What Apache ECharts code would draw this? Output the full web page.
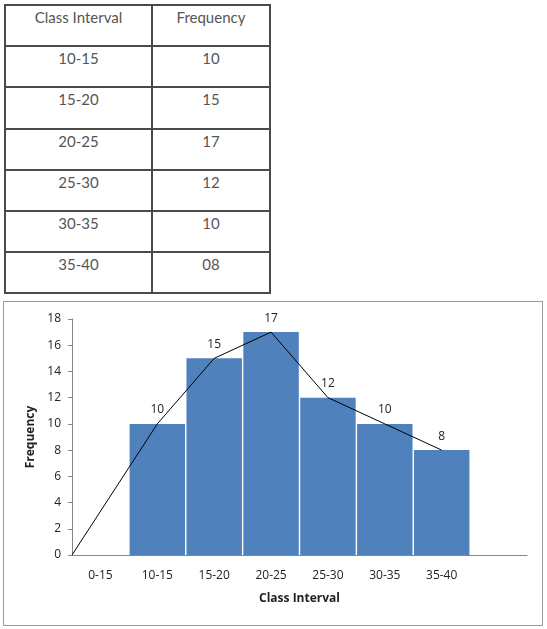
<!DOCTYPE html>
<html>
<head>
<meta charset="utf-8">
<script src="https://cdn.jsdelivr.net/npm/echarts@6/dist/echarts.min.js"></script>
<style>
  html, body { margin: 0; padding: 0; background: #fff; width: 547px; height: 629px; overflow: hidden; }
  #tbl { position: absolute; left: 4px; top: 4px; border-collapse: collapse; font-family: Lato, "Open Sans", sans-serif; font-size: 15px; color: #555; }
  #tbl td { border: 2px solid #4a4a4a; text-align: center; vertical-align: top; padding: 2px 0 0 0; box-sizing: border-box; }
  #tbl td.c1 { width: 147px; }
  #tbl td.c2 { width: 118px; }
  #chart { position: absolute; left: 3px; top: 301px; width: 540px; height: 325px; box-sizing: border-box; border: 1px solid #9a9a9a; }
</style>
</head>
<body>
<table id="tbl"></table>
<div id="chart"></div>
<script>
// ---- data ----
const tableHeaders = ["Class Interval", "Frequency"];
const tableIntervals = ["10-15", "15-20", "20-25", "25-30", "30-35", "35-40"];
const tableFrequencies = ["10", "15", "17", "12", "10", "08"];

const categories = ["0-15", "10-15", "15-20", "20-25", "25-30", "30-35", "35-40", ""];
const barValues = [null, 10, 15, 17, 12, 10, 8, null];
// frequency polygon: starts at 0 on the left edge, then the bar values at category centres
const polygonStart = 0;
const polygonValues = [10, 15, 17, 12, 10, 8];
const yTicks = { min: 0, max: 18, interval: 2 };

// ---- table ----
const tbl = document.getElementById('tbl');
function addRow(a, b) {
  const tr = document.createElement('tr');
  const t1 = document.createElement('td'); t1.className = 'c1'; t1.textContent = a;
  const t2 = document.createElement('td'); t2.className = 'c2'; t2.textContent = b;
  tr.appendChild(t1); tr.appendChild(t2); tbl.appendChild(tr);
}
addRow(tableHeaders[0], tableHeaders[1]);
tableIntervals.forEach((c, i) => addRow(c, tableFrequencies[i]));
Array.from(tbl.querySelectorAll('td')).forEach(td => td.style.height = '41.2px');

// ---- chart ----
const chart = echarts.init(document.getElementById('chart'), null, { renderer: 'canvas' });
const polyData = [[0, polygonStart]].concat(
  polygonValues.map((v, i) => [categories.indexOf(tableIntervals[i]) + 0.5, v])
);
const font = '"Open Sans", "Liberation Sans", Arial, sans-serif';
chart.setOption({
  animation: false,
  textStyle: { fontFamily: font },
  grid: { left: 68, right: 15, top: 17, bottom: 70 },
  xAxis: [{
    type: 'category',
    data: categories,
    axisLine: { lineStyle: { color: '#868686', width: 1 } },
    axisTick: { show: false },
    axisLabel: { color: '#222', fontSize: 12, margin: 15, fontFamily: font },
    name: 'Class Interval',
    nameLocation: 'middle',
    nameGap: 38,
    nameTextStyle: { color: '#222', fontWeight: 'bold', fontSize: 12, fontFamily: font }
  }, {
    type: 'value', min: 0, max: categories.length, show: false
  }],
  yAxis: {
    type: 'value',
    min: yTicks.min, max: yTicks.max, interval: yTicks.interval,
    axisLine: { show: true, lineStyle: { color: '#868686', width: 1 } },
    axisTick: { show: true, length: 4, lineStyle: { color: '#868686' } },
    splitLine: { show: false },
    axisLabel: { color: '#222', fontSize: 12, margin: 11, fontFamily: font },
    name: 'Frequency',
    nameLocation: 'middle',
    nameGap: 29,
    nameTextStyle: { color: '#222', fontWeight: 'bold', fontSize: 12, fontFamily: font }
  },
  series: [{
    type: 'bar',
    data: barValues,
    xAxisIndex: 0,
    barCategoryGap: '2.5%',
    itemStyle: { color: '#4F81BD' },
    label: { show: true, position: 'top', distance: 8, color: '#222', fontSize: 12, fontFamily: font }
  }, {
    type: 'line',
    xAxisIndex: 1,
    data: polyData,
    showSymbol: false,
    lineStyle: { color: '#000', width: 1 },
    z: 5
  }]
});
</script>
</body>
</html>
